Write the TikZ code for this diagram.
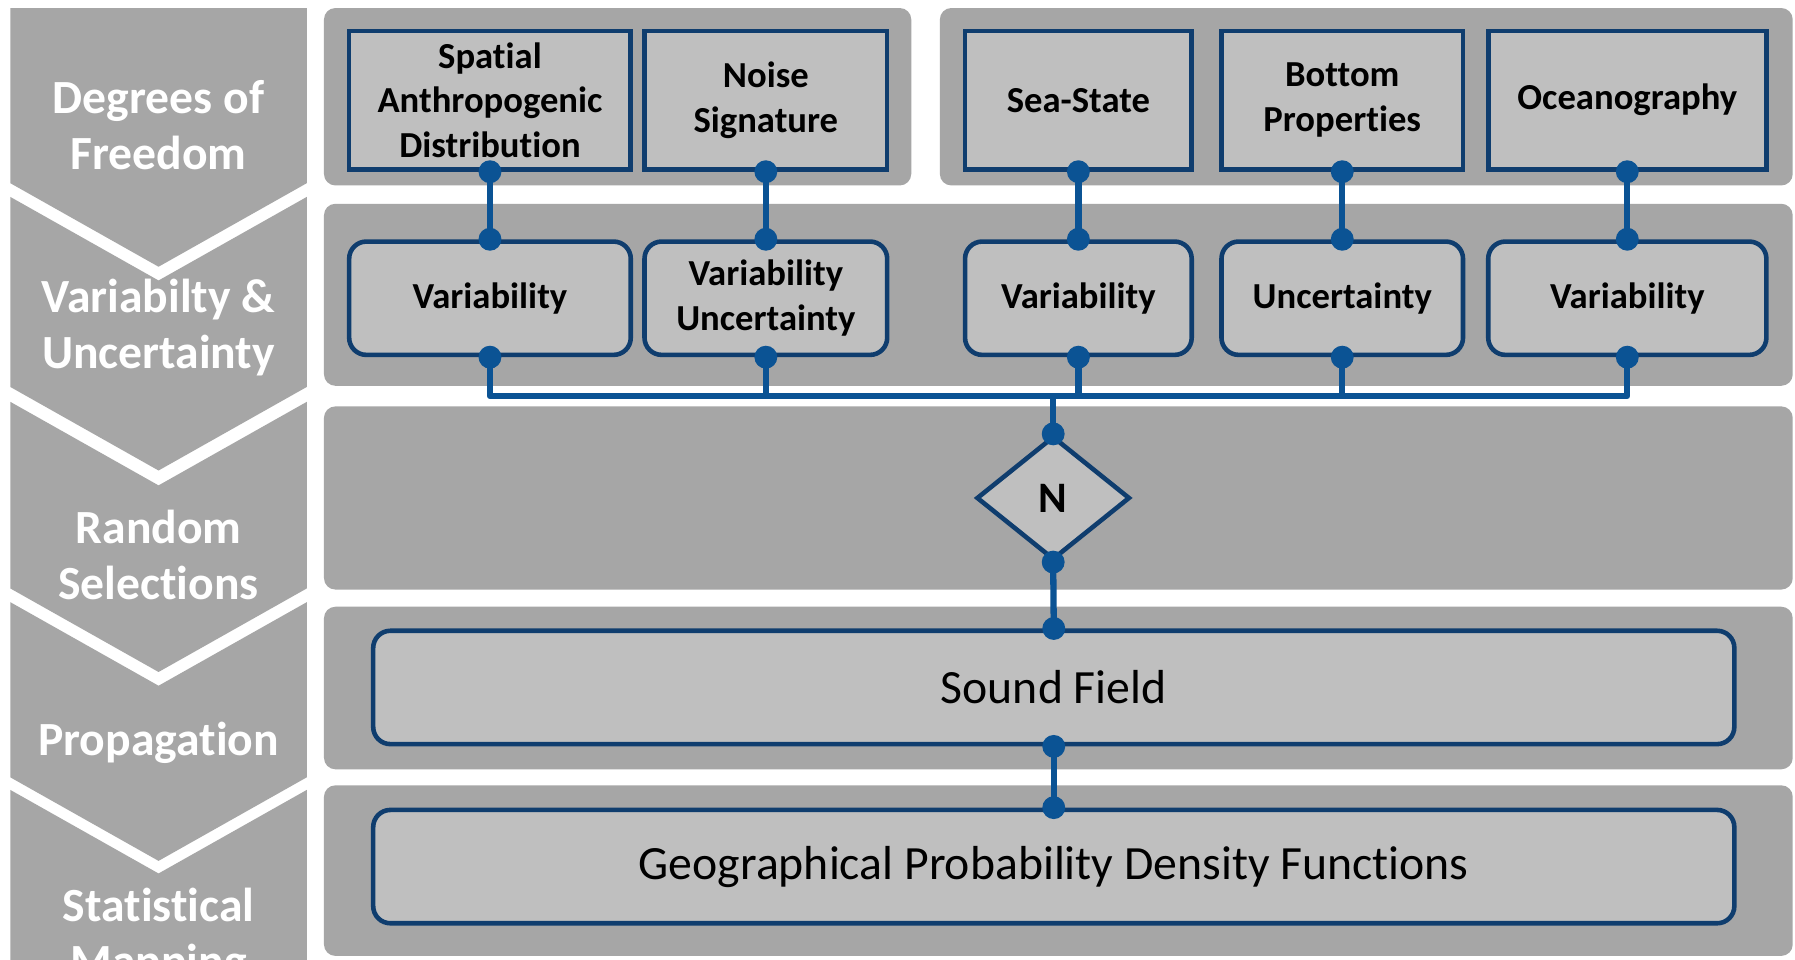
\documentclass[tikz,border=0pt]{standalone}
\usepackage{fontspec}
\setmainfont{Carlito}[Ligatures={NoCommon}]
\usetikzlibrary{shapes.geometric}
\definecolor{chevgray}{HTML}{A6A6A6}
\definecolor{boxgray}{HTML}{BFBFBF}
\definecolor{edgeblue}{HTML}{0F3D6E}
\definecolor{linkblue}{HTML}{0B5394}
\begin{document}
\begin{tikzpicture}[x=1pt,y=-1pt,
  chev/.style={fill=chevgray},
  panel/.style={fill=chevgray, rounded corners=10pt},
  chevtext/.style={text=white, font=\fontsize{41.6}{49}\selectfont\bfseries, align=center, inner sep=0pt},
  topbox/.style={draw=edgeblue, fill=boxgray, line width=4pt, inner sep=0pt, align=center, font=\fontsize{32}{39}\selectfont\bfseries, minimum height=121pt},
  varbox/.style={topbox, rounded corners=15pt, minimum height=99pt},
  bigbox/.style={draw=edgeblue, fill=boxgray, line width=4pt, rounded corners=15pt, minimum width=1189pt, minimum height=99pt, inner sep=0pt, font=\fontsize{41.7}{50}\selectfont},
  link/.style={draw=linkblue, line width=5.5pt},
  dot/.style={fill=linkblue}
]
\clip (0,0) rectangle (1568,838);
\fill[white] (0,0) rectangle (1568,838);
% chevrons
\fill[chev] (9,7) -- (268,7) -- (268,160) -- (138.5,233) -- (9,160) -- cycle;
\fill[chev] (9,172) -- (138.5,245) -- (268,172) -- (268,338) -- (138.5,411) -- (9,338) -- cycle;
\fill[chev] (9,351) -- (138.5,424) -- (268,351) -- (268,514) -- (138.5,587) -- (9,514) -- cycle;
\fill[chev] (9,526) -- (138.5,599) -- (268,526) -- (268,679) -- (138.5,752) -- (9,679) -- cycle;
\fill[chev] (9,690) -- (138.5,763) -- (268,690) -- (268,860) -- (9,860) -- cycle;
\node[chevtext] (c1) at (138.5,109) {Degrees of\\Freedom};
\node[chevtext] (c2) at (138.5,286.5) {Variabilty \&\\Uncertainty};
\node[chevtext] (c3) at (138.5,484.5) {Random\\Selections};
\node[chevtext] (c4) at (138.5,649) {Propagation};
\node[chevtext] (c5) at (138.5,818) {Statistical\\Mapping};
% panels
\fill[panel] (283,7) rectangle (796,162);
\fill[panel] (821,7) rectangle (1566,162);
\fill[panel] (283,178) rectangle (1566,337);
\fill[panel] (283,355) rectangle (1566,515);
\fill[panel] (283,530) rectangle (1566,672);
\fill[panel] (283,686) rectangle (1566,835);
% top boxes
\node[topbox, minimum width=246pt] (t1) at (428,87.5) {Spatial\\Anthropogenic\\Distribution};
\node[topbox, minimum width=212pt] (t2) at (669,87.5) {Noise\\Signature};
\node[topbox, minimum width=198pt] (t3) at (942,87.5) {Sea-State};
\node[topbox, minimum width=211pt] (t4) at (1172.5,87.5) {Bottom\\Properties};
\node[topbox, minimum width=243pt] (t5) at (1421.5,87.5) {Oceanography};
% second row
\node[varbox, minimum width=246pt] (v1) at (428,260.5) {Variability};
\node[varbox, minimum width=212pt] (v2) at (669,260.5) {Variability\\Uncertainty};
\node[varbox, minimum width=198pt] (v3) at (942,260.5) {Variability};
\node[varbox, minimum width=211pt] (v4) at (1172.5,260.5) {Uncertainty};
\node[varbox, minimum width=243pt] (v5) at (1421.5,260.5) {Variability};
% diamond and big boxes
\node[diamond, draw=edgeblue, fill=boxgray, line width=4pt, inner sep=0pt, minimum width=134pt, minimum height=108pt, font=\fontsize{38}{40}\selectfont\bfseries] (n) at (920,435) {N};
\node[bigbox] (sf) at (920.5,600.5) {Sound Field};
\node[bigbox] (gp) at (920.5,757) {Geographical Probability Density Functions};
% connectors
\foreach \i in {1,...,5} {
  \draw[link] (t\i.south) -- (v\i.north);
}
\coordinate (bN) at (920,346);
\coordinate (bL) at (v1.south |- bN);
\draw[link, line join=round] (v1.south) -- (bL) -| (v5.south);
\draw[link] (v2.south) -- (v2.south |- bN);
\draw[link] (v3.south) -- (v3.south |- bN);
\draw[link] (v4.south) -- (v4.south |- bN);
\draw[link] (bN) -- (n.north);
\draw[link] (n.south) -- (sf.north);
\draw[link] (sf.south) -- (gp.north);
% dots
\foreach \i in {1,...,5} {
  \fill[dot] (t\i.south) circle (10pt);
  \fill[dot] (v\i.north) circle (10pt);
  \fill[dot] (v\i.south) circle (10pt);
}
\fill[dot] (n.north) circle (10pt);
\fill[dot] (n.south) circle (10pt);
\fill[dot] (sf.north) circle (10pt);
\fill[dot] (sf.south) circle (10pt);
\fill[dot] (gp.north) circle (10pt);
\end{tikzpicture}
\end{document}
